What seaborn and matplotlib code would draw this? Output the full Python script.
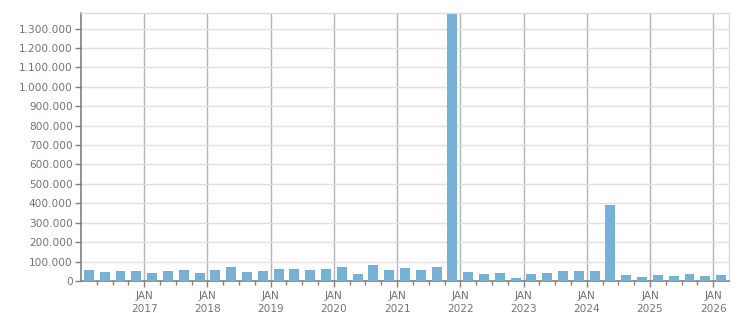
import matplotlib
matplotlib.use("Agg")
import matplotlib.pyplot as plt
import matplotlib.ticker as mticker
import seaborn as sns
import pandas as pd

# Quarterly data, 2016 Q1 .. 2026 Q1
years = [2016]*4 + [2017]*4 + [2018]*4 + [2019]*4 + [2020]*4 + [2021]*4 + \
        [2022]*4 + [2023]*4 + [2024]*4 + [2025]*4 + [2026]
quarters = [1, 2, 3, 4]*10 + [1]
values = [
    55000, 45000, 50000, 50000,      # 2016
    40000, 50000, 55000, 40000,      # 2017
    55000, 70000, 45000, 50000,      # 2018
    60000, 60000, 55000, 60000,      # 2019
    70000, 34000, 81000, 55000,      # 2020
    65000, 55000, 70000, 1375000,    # 2021
    45000, 34000, 40000, 14000,      # 2022
    34000, 40000, 50000, 50000,      # 2023
    50000, 392000, 29000, 19000,     # 2024
    29000, 24000, 34000, 24000,      # 2025
    29000,                           # 2026
]
year_ticks = list(range(2017, 2027))
y_ticks = list(range(0, 1300001, 100000))

df = pd.DataFrame({"year": years, "quarter": quarters, "value": values})
df["pos"] = df["year"] + (df["quarter"] - 0.5) / 4.0

sns.set_theme(style="white")
plt.rcParams["font.family"] = ["DejaVu Sans"]
fig = plt.figure(figsize=(7.51, 3.13), dpi=100)
ax = fig.add_axes([81/751, 1-281/313, (729-81)/751, (281-13)/313])

sns.barplot(data=df, x="pos", y="value", native_scale=True, width=0.63,
            color="#77b1d4", saturation=1, edgecolor="none", linewidth=0, ax=ax, zorder=3)

ax.set_xlim(2016, 2026.25)
ax.set_ylim(0, 1380000)

ax.set_yticks(y_ticks)
ax.yaxis.set_major_formatter(mticker.FuncFormatter(lambda v, p: f"{int(v):,}".replace(",", ".")))
ax.set_xticks(year_ticks)
ax.set_xticklabels([f"JAN\n{y}" for y in year_ticks])
ax.set_xticks([y + q/4 for y in range(2016, 2027) for q in (1, 2, 3) if y + q/4 < 2026.25], minor=True)

ax.grid(axis="y", color="#e0e0e0", linewidth=1, zorder=0)
ax.grid(axis="x", which="major", color="#b4b4b4", linewidth=1, zorder=1)
ax.set_axisbelow(True)

for s in ("top", "right"):
    ax.spines[s].set_color("#dcdcdc")
    ax.spines[s].set_linewidth(1)
for s in ("left", "bottom"):
    ax.spines[s].set_color("#808080")
    ax.spines[s].set_linewidth(1.2)

ax.tick_params(axis="y", which="major", direction="out", length=4, width=1, color="#808080",
               labelsize=7.6, labelcolor="#76707c", pad=2, left=True)
ax.tick_params(axis="x", which="major", direction="out", length=4, width=1, color="#808080",
               labelsize=7.6, labelcolor="#76707c", pad=3, bottom=True)
ax.tick_params(axis="x", which="minor", direction="out", length=3, width=1, color="#808080", bottom=True)
for lab in ax.get_xticklabels():
    lab.set_linespacing(1.45)

ax.set_xlabel("")
ax.set_ylabel("")

fig.savefig("out.png", dpi=100)
